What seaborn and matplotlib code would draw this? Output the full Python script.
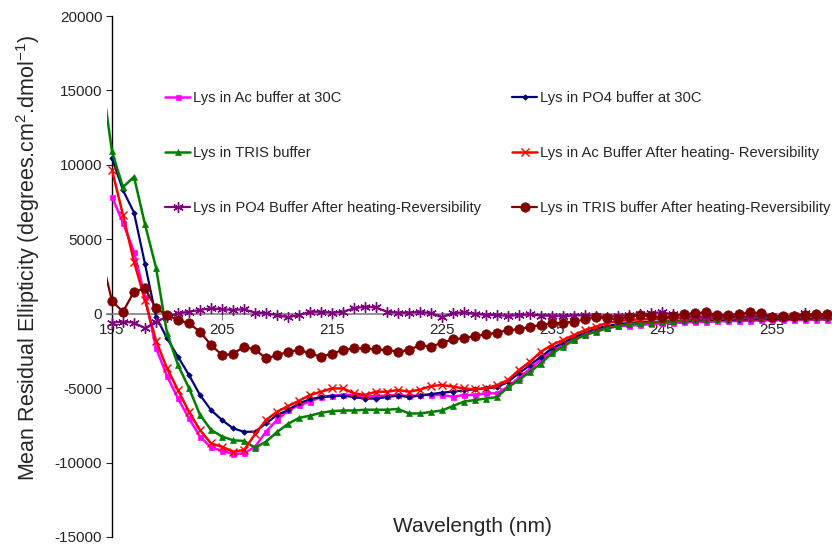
import numpy as np
import pandas as pd
import matplotlib
matplotlib.use("Agg")
import matplotlib.pyplot as plt
import seaborn as sns

# wavelength grid (nm), one reading per nm
wavelength = np.arange(195, 261)
lead_wavelength = 194  # TRIS curves start just left of the axis

# mean residual ellipticity (195 -> 260 nm)
ac_30 = [
    7860, 6100, 4170, 1140, -2300, -4190, -5690, -7030, -8260, -8980,
    -9200, -9430, -9380, -8940, -7930, -7140, -6500, -6150, -5900, -5600,
    -5500, -5450, -5460, -5550, -5550, -5500, -5460, -5550, -5460, -5460,
    -5460, -5580, -5460, -5460, -5350, -5350, -4900, -4300, -3700, -3100,
    -2500, -2100, -1750, -1400, -1150, -950, -850, -800, -760, -690,
    -650, -630, -590, -560, -550, -520, -500, -490, -460, -450,
    -450, -430, -420, -430, -400, -400]
po4_30 = [
    10440, 8300, 6790, 3340, -200, -1650, -2890, -4120, -5460, -6470,
    -7140, -7700, -7930, -7930, -7370, -6810, -6470, -6020, -5750, -5600,
    -5550, -5500, -5600, -5700, -5700, -5600, -5500, -5600, -5500, -5400,
    -5300, -5240, -5150, -5080, -5000, -4950, -4570, -4000, -3450, -2890,
    -2330, -1950, -1590, -1275, -1000, -830, -700, -620, -560, -540,
    -540, -500, -480, -450, -430, -420, -400, -390, -380, -370,
    -360, -350, -340, -330, -320, -300]
# TRIS series carry one extra leading value (194 nm)
tris = [
    16200,
    10900, 8500, 9200, 6000, 3100, -1300, -3450, -5000, -6800, -7800,
    -8250, -8500, -8550, -9000, -8600, -7950, -7400, -7000, -6850, -6650,
    -6550, -6500, -6500, -6450, -6450, -6450, -6400, -6700, -6700, -6600,
    -6500, -6200, -5900, -5800, -5700, -5600, -4950, -4450, -3900, -3350,
    -2650, -2220, -1770, -1430, -1210, -980, -830, -690, -650, -600,
    -560, -500, -450, -400, -380, -350, -330, -300, -300, -280,
    -280, -260, -250, -250, -240, -230]
ac_heat = [
    9660, 6630, 3500, 900, -1800, -3670, -5130, -6590, -7820, -8710,
    -8940, -9270, -9160, -8100, -7140, -6590, -6200, -5850, -5460, -5240,
    -5020, -5020, -5350, -5460, -5240, -5240, -5130, -5240, -5100, -4860,
    -4790, -4900, -5020, -5080, -5020, -4790, -4455, -3780, -3220, -2550,
    -2100, -1770, -1430, -1100, -870, -620, -500, -420, -380, -350,
    -330, -300, -280, -260, -250, -240, -230, -220, -210, -200,
    -200, -190, -180, -180, -170, -160]
po4_heat = [
    -600, -540, -600, -980, -540, -200, 30, 130, 250, 360,
    300, 250, 300, 70, 30, -90, -240, -90, 130, 130,
    70, 130, 360, 470, 420, 130, 70, 70, 130, 30,
    -240, 30, 100, 0, -90, -90, -155, -90, -50, -120,
    -150, -180, -120, -100, -150, -200, -150, -100, -50, 30,
    100, -50, -150, -200, -180, -150, -200, -220, -180, -150,
    -200, -220, -150, 30, -100, -150]
tris_heat = [
    3950,
    850, 130, 1480, 1700, 360, -90, -420, -650, -1210, -2100,
    -2775, -2700, -2220, -2400, -3000, -2800, -2550, -2440, -2660, -2900,
    -2680, -2440, -2330, -2330, -2400, -2440, -2550, -2440, -2100, -2220,
    -1950, -1720, -1630, -1500, -1390, -1275, -1100, -1050, -870, -760,
    -650, -600, -540, -380, -240, -310, -360, -200, -90, -155,
    -240, -155, -20, 30, 100, -90, -90, -40, 100, 30,
    -200, -155, -155, -90, -40, -40]

labels = [
    "Lys in Ac buffer at 30C",
    "Lys in PO4 buffer at 30C",
    "Lys in TRIS buffer",
    "Lys in Ac Buffer After heating- Reversibility",
    "Lys in PO4 Buffer After heating-Reversibility",
    "Lys in TRIS buffer After heating-Reversibility",
]

wl_lead = np.concatenate([[lead_wavelength], wavelength])
xs = [wavelength, wavelength, wl_lead, wavelength, wavelength, wl_lead]
ys = [ac_30, po4_30, tris, ac_heat, po4_heat, tris_heat]

frames = []
for lab, x, y in zip(labels, xs, ys):
    frames.append(pd.DataFrame({"wl": x, "mre": y, "series": lab}))
df = pd.concat(frames, ignore_index=True)

# color, marker, markersize, linewidth, markeredgewidth
styles = {
    labels[0]: ("#ff00ff", "s", 3.6, 1.8, 0.5),
    labels[1]: ("#000080", "D", 2.8, 1.6, 0.5),
    labels[2]: ("#008000", "^", 4.2, 1.8, 0.5),
    labels[3]: ("#ff0000", "x", 5.5, 1.8, 1.0),
    labels[4]: ("#800080", (6, 2, 0), 7.5, 1.6, 1.0),
    labels[5]: ("#800000", "o", 6.8, 1.6, 0.5),
}

sns.set_style("white")
plt.rcParams["font.family"] = ["Liberation Sans", "DejaVu Sans"]
plt.rcParams["mathtext.default"] = "regular"
plt.rcParams["axes.unicode_minus"] = False

W, H = 832, 549
fig = plt.figure(figsize=(W / 100, H / 100), dpi=100)
ax = fig.add_axes([107 / W, 12 / H, (W - 107) / W, (537 - 16) / H])

handles = []
for lab in labels:
    col, mk, ms, lw, mew = styles[lab]
    sub = df[df["series"] == lab]
    sns.lineplot(data=sub, x="wl", y="mre", ax=ax, color=col, marker=mk,
                 markersize=ms, linewidth=lw, markeredgewidth=mew,
                 markeredgecolor=col, estimator=None, sort=False,
                 label=lab, zorder=3)
    handles.append(ax.lines[-1])
if ax.get_legend() is not None:
    ax.get_legend().remove()

ax.set_xlim(195 - 5 / 11, 195 + 720 / 11)
ax.set_ylim(-15000, 20000)
ax.set_xticks(np.arange(195, 261, 10))
ax.set_yticks(np.arange(-15000, 20001, 5000))
ax.set_xlabel("")
ax.set_ylabel("")

for s in ["top", "right"]:
    ax.spines[s].set_visible(False)
ax.spines["left"].set_position(("data", 195))
ax.spines["left"].set_color("black")
ax.spines["left"].set_linewidth(1.0)
ax.spines["bottom"].set_position(("data", 0))
ax.spines["bottom"].set_color("#808080")
ax.spines["bottom"].set_linewidth(1.2)

ax.tick_params(axis="y", direction="out", length=4, width=0.8,
               labelsize=11, pad=3, left=True)
ax.tick_params(axis="x", direction="out", length=4, width=0.8,
               color="#808080", labelsize=11, pad=3, bottom=True)

fig.text(28 / W, 1 - 258 / H,
         "Mean Residual Ellipticity (degrees.cm$^{2}$.dmol$^{-1}$)",
         rotation=90, ha="center", va="center", fontsize=15.5)
fig.text(472 / W, 1 - 527 / H, "Wavelength (nm)",
         ha="center", va="center", fontsize=15)

leg_kw = dict(frameon=False, fontsize=10.6, numpoints=1, handlelength=1.7,
              handletextpad=0.2, labelspacing=2.8, borderpad=0,
              borderaxespad=0, loc="upper left",
              bbox_transform=fig.transFigure)
leg1 = ax.legend([handles[0], handles[2], handles[4]],
                 [labels[0], labels[2], labels[4]],
                 bbox_to_anchor=(165 / W, 1 - 91 / H), **leg_kw)
ax.add_artist(leg1)
ax.legend([handles[1], handles[3], handles[5]],
          [labels[1], labels[3], labels[5]],
          bbox_to_anchor=(512 / W, 1 - 91 / H), **leg_kw)

fig.savefig("out.png", dpi=100)
